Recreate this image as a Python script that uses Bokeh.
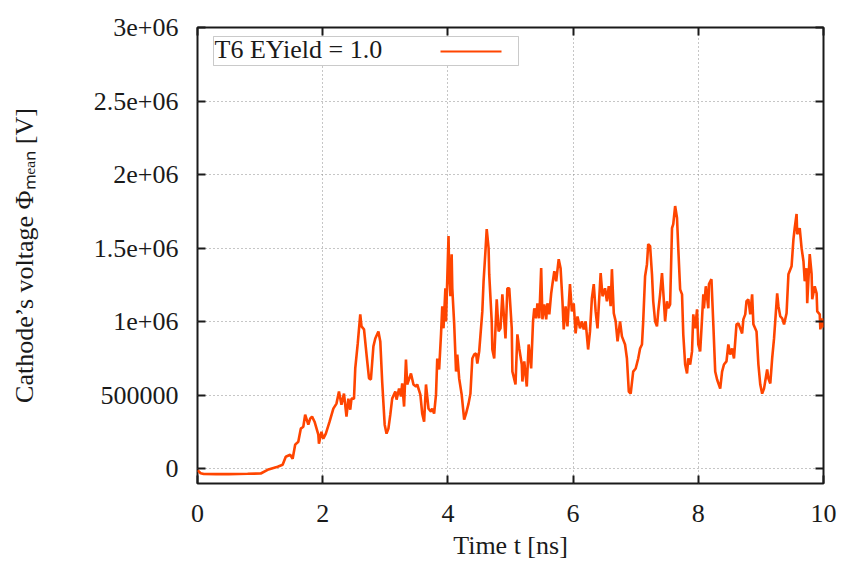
from bokeh.plotting import figure
from bokeh.models import (FixedTicker, LinearAxis, Range1d, Label, BoxAnnotation, Arrow)
from bokeh.embed import file_html
from bokeh.resources import INLINE

# ---------------- data ----------------
time_ns = [
    0.00, 0.05, 0.10, 0.30, 0.50, 0.80, 1.01, 1.12, 1.28, 1.36, 1.41, 1.48, 1.52, 1.56, 1.61,
    1.65, 1.69, 1.72, 1.77, 1.80, 1.83, 1.87, 1.93, 1.94, 1.98, 2.01, 2.05, 2.11, 2.17, 2.22,
    2.26, 2.30, 2.34, 2.38, 2.41, 2.44, 2.46, 2.50, 2.52, 2.56, 2.60, 2.62, 2.66, 2.70, 2.74,
    2.77, 2.81, 2.84, 2.89, 2.92, 2.95, 2.99, 3.02, 3.05, 3.08, 3.11, 3.16, 3.18,
    3.22, 3.25, 3.27, 3.30, 3.33, 3.35, 3.41, 3.45, 3.49, 3.51, 3.56, 3.59, 3.62, 3.65, 3.69,
    3.73, 3.75, 3.78, 3.81, 3.83, 3.86, 3.89, 3.91, 3.93, 3.96, 3.97, 4.01, 4.02, 4.04, 4.06,
    4.07, 4.10, 4.13, 4.15, 4.18, 4.22, 4.26, 4.29, 4.33, 4.36, 4.39, 4.42, 4.45, 4.47, 4.50,
    4.55, 4.57, 4.60, 4.62, 4.65, 4.66, 4.70, 4.71, 4.74, 4.78, 4.81, 4.84, 4.87, 4.92, 4.95,
    4.98, 5.02, 5.03, 5.08, 5.11, 5.14, 5.18, 5.19, 5.22, 5.26, 5.29,
    5.33, 5.36, 5.38, 5.41, 5.43, 5.46, 5.49, 5.51, 5.54, 5.57, 5.59, 5.62, 5.65, 5.67, 5.70,
    5.73, 5.77, 5.80, 5.83, 5.85, 5.88, 5.91, 5.95, 5.98, 6.01, 6.04, 6.07, 6.11, 6.14, 6.17,
    6.20, 6.24, 6.27, 6.30, 6.33, 6.36, 6.39, 6.44, 6.47, 6.51, 6.54, 6.57, 6.60, 6.62, 6.65,
    6.68, 6.71, 6.75, 6.78, 6.83, 6.86, 6.89, 6.92, 6.96, 7.00, 7.04, 7.07, 7.10, 7.12, 7.15,
    7.18, 7.20, 7.23, 7.26, 7.28, 7.31, 7.34, 7.36,
    7.39, 7.42, 7.44, 7.47, 7.50, 7.52, 7.55, 7.58, 7.60, 7.63, 7.66, 7.68, 7.71, 7.74, 7.76,
    7.79, 7.82, 7.84, 7.87, 7.90, 7.92, 7.95, 7.98, 8.00, 8.03, 8.06, 8.08, 8.09, 8.12, 8.16,
    8.17, 8.21, 8.24, 8.27, 8.30, 8.35, 8.38, 8.41, 8.45, 8.48, 8.51, 8.54, 8.57, 8.61, 8.64,
    8.67, 8.70, 8.72, 8.75, 8.77, 8.80, 8.83, 8.86, 8.88, 8.93, 8.96, 8.99, 9.02, 9.05, 9.10,
    9.12, 9.15, 9.18, 9.21, 9.26, 9.28, 9.31, 9.34, 9.37, 9.41, 9.44, 9.49, 9.52, 9.54, 9.57,
    9.58, 9.62, 9.65, 9.68, 9.70, 9.73, 9.74, 9.78, 9.81, 9.82, 9.86, 9.89, 9.90, 9.94, 9.95,
    9.98, 10.00,
]
voltage_V = [
    -10000, -30000, -35000, -36000, -36000, -34000, -32000, -7000, 14000, 27000, 82000, 95000, 68000, 164000, 184000,
    273000, 286000, 368000, 300000, 341000, 355000, 320000, 232000, 170000, 252000, 205000, 239000, 320000, 409000, 443000,
    525000, 436000, 511000, 355000, 477000, 402000, 477000, 477000, 682000, 852000, 1050000, 968000, 948000, 777000, 614000,
    607000, 832000, 886000, 934000, 866000, 593000, 300000, 239000, 273000, 368000, 477000, 525000, 470000,
    545000, 491000, 580000, 423000, 743000, 573000, 648000, 573000, 559000, 573000, 504000, 375000, 320000, 573000, 409000,
    389000, 409000, 375000, 504000, 750000, 675000, 914000, 1105000, 955000, 1227000, 1002000, 1582000, 1343000, 1173000, 1459000,
    1227000, 989000, 661000, 777000, 614000, 504000, 334000, 375000, 443000, 511000, 750000, 777000, 784000, 716000, 798000,
    1070000, 1275000, 1480000, 1629000, 1500000, 1323000, 1002000, 811000, 750000, 1152000, 934000, 955000, 1186000, 886000, 1227000,
    1227000, 955000, 661000, 573000, 914000, 818000, 709000, 593000, 730000, 559000, 845000,
    682000, 1002000, 1091000, 1023000, 1125000, 1023000, 1364000, 1016000, 1118000, 1016000, 1125000, 1050000, 1193000, 1255000, 1343000,
    1275000, 1425000, 1364000, 1139000, 948000, 1105000, 968000, 1255000, 1070000, 1125000, 920000, 1036000, 955000, 1002000, 948000,
    1002000, 811000, 934000, 1159000, 1255000, 1070000, 955000, 1330000, 1173000, 1227000, 1139000, 1241000, 1105000, 1357000, 1057000,
    1002000, 866000, 1002000, 900000, 845000, 750000, 525000, 511000, 661000, 682000, 750000, 818000, 845000, 1002000, 1309000,
    1391000, 1527000, 1514000, 1323000, 1139000, 1002000, 968000, 1070000,
    1186000, 1330000, 1207000, 1002000, 1139000, 1091000, 1118000, 1636000, 1664000, 1786000, 1705000, 1500000, 1220000, 1186000, 914000,
    709000, 648000, 750000, 709000, 798000, 1050000, 955000, 1084000, 845000, 798000, 1023000, 1186000, 1091000, 1241000, 1091000,
    1255000, 1289000, 982000, 661000, 607000, 545000, 661000, 709000, 730000, 845000, 777000, 818000, 750000, 982000, 989000,
    955000, 920000, 1016000, 1050000, 1139000, 1152000, 1050000, 1186000, 982000, 934000, 709000, 573000, 511000, 545000, 675000,
    614000, 580000, 750000, 886000, 1193000, 1105000, 1036000, 1023000, 982000, 1057000, 1323000, 1377000, 1561000, 1636000, 1732000,
    1595000, 1636000, 1500000, 1411000, 1275000, 1364000, 1125000, 1459000, 1323000, 1152000, 1241000, 1193000, 1070000, 1050000, 948000,
    1023000, 960000,
]

x_ticks = [0, 2, 4, 6, 8, 10]
x_tick_labels = ["0", "2", "4", "6", "8", "10"]
y_ticks = [0, 500000, 1000000, 1500000, 2000000, 2500000, 3000000]
y_tick_labels = ["0", "500000", "1e+06", "1.5e+06", "2e+06", "2.5e+06", "3e+06"]

x_title = "Time t [ns]"
y_title = "Cathode\u2019s voltage \u03a6\u2098\u2091\u2090\u2099 [V]"
legend_label = "T6 EYield = 1.0"
series_color = "#ff4500"

FONT = "Liberation Serif"
FS = "26px"

p = figure(
    frame_width=626, frame_height=456,
    x_range=Range1d(0, 10), y_range=Range1d(-100000, 3000000),
    output_backend="svg", toolbar_location=None,
    min_border_left=197, min_border_top=27, min_border_right=18, min_border_bottom=82,
    background_fill_color="white", border_fill_color="white",
)
p.outline_line_color = "#1a1a1a"
p.outline_line_width = 2

p.line(time_ns, voltage_V, line_color=series_color, line_width=2.6)

# axes
xt = FixedTicker(ticks=x_ticks)
yt = FixedTicker(ticks=y_ticks)
for ax in p.xaxis:
    ax.ticker = xt
    ax.major_label_overrides = {t: l for t, l in zip(x_ticks, x_tick_labels)}
    ax.axis_label = x_title
    ax.axis_label_standoff = 6
for ax in p.yaxis:
    ax.ticker = yt
    ax.major_label_overrides = {t: l for t, l in zip(y_ticks, y_tick_labels)}
    ax.axis_label = y_title
    ax.axis_label_standoff = 52

for ax in list(p.xaxis) + list(p.yaxis):
    ax.axis_line_color = None
    ax.major_tick_in = 8
    ax.major_tick_out = 0
    ax.major_tick_line_width = 2
    ax.major_tick_line_color = "#1a1a1a"
    ax.minor_tick_line_color = None
    ax.major_label_text_font = FONT
    ax.major_label_text_font_size = FS
    ax.major_label_text_color = "#1a1a1a"
    ax.axis_label_text_font = FONT
    ax.axis_label_text_font_size = FS
    ax.axis_label_text_font_style = "normal"
    ax.axis_label_text_color = "#1a1a1a"
p.xaxis.major_label_standoff = 21
p.yaxis.major_label_standoff = 19

# mirrored tick axes (right and top), no labels
r_ax = LinearAxis(ticker=yt, major_label_overrides={t: "" for t in y_ticks})
t_ax = LinearAxis(ticker=xt, major_label_overrides={t: "" for t in x_ticks})
for ax in (r_ax, t_ax):
    ax.axis_line_color = None
    ax.major_tick_in = 8
    ax.major_tick_out = 0
    ax.major_tick_line_width = 2
    ax.major_tick_line_color = "#1a1a1a"
    ax.minor_tick_line_color = None
    ax.major_label_standoff = 0
    ax.major_label_text_font_size = "1px"
p.add_layout(r_ax, "right")
p.add_layout(t_ax, "above")

# grid
p.xgrid.ticker = xt
p.ygrid.ticker = yt
for g in (p.xgrid, p.ygrid):
    g.grid_line_color = "#8c8c8c"
    g.grid_line_dash = "1 3"
    g.grid_line_width = 1

# legend (gnuplot style: text then line sample), drawn in screen units
p.add_layout(BoxAnnotation(left=16, right=321, top=447, bottom=418,
                           left_units="screen", right_units="screen",
                           top_units="screen", bottom_units="screen",
                           fill_color="white", fill_alpha=1.0,
                           line_color="#505050", line_width=1))
p.add_layout(Label(x=17, y=434, text=legend_label, text_align="left", text_font_size=FS,
                   x_units="screen", y_units="screen", text_font=FONT, text_color="#1a1a1a",
                   text_baseline="alphabetic"))
p.add_layout(Arrow(end=None, start=None, x_start=243, x_end=304, y_start=432, y_end=432,
                   start_units="screen", end_units="screen",
                   line_color=series_color, line_width=2))

open("out.html", "w").write(file_html(p, INLINE))
